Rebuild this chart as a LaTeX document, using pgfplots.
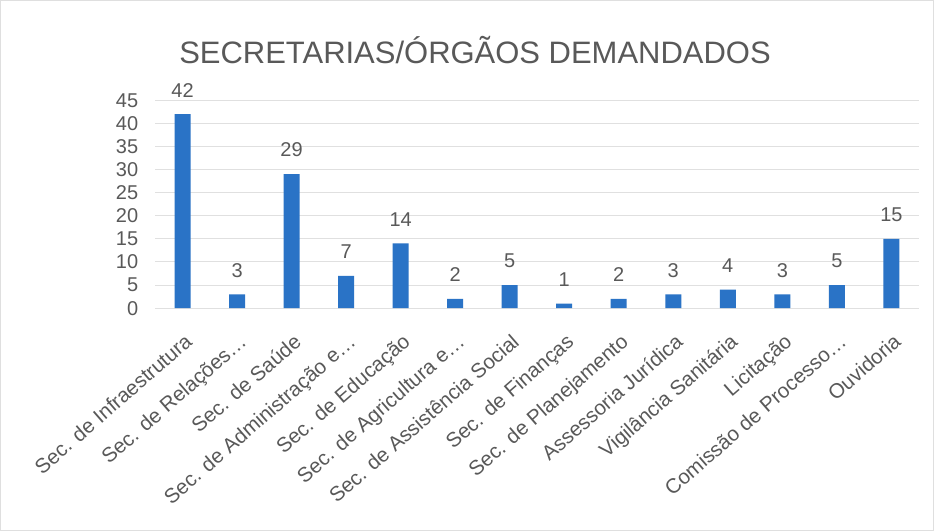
\documentclass[border=0pt]{standalone}
\usepackage{pgfplots}
\pgfplotsset{compat=1.18}
\usepackage{fontspec}
\setmainfont{Liberation Sans}
\definecolor{barblue}{HTML}{2A73C6}
\definecolor{txtgray}{HTML}{595959}
\definecolor{gridgray}{HTML}{E0E0E0}
\begin{document}
\begin{tikzpicture}
\draw[draw=gray!25, fill=white] (0,0) rectangle (467pt,265pt);
\node[text=txtgray, font=\fontsize{15.5}{18}\selectfont] at (237.5pt,240pt) {SECRETARIAS/ÓRGÃOS DEMANDADOS};
\begin{axis}[
  at={(77.5pt,111pt)}, anchor=south west,
  scale only axis, width=382pt, height=104pt,
  xmin=-0.5, xmax=13.5, ymin=0, ymax=45,
  ytick={0,5,...,45},
  xtick={0,...,13},
  xticklabels={Sec. de Infraestrutura, Sec. de Relações…, Sec. de Saúde, Sec. de Administração e…, Sec. de Educação, Sec. de Agricultura e…, Sec. de Assistência Social, Sec. de Finanças, Sec. de Planejamento, Assessoria Jurídica, Vigilância Sanitária, Licitação, Comissão de Processo…, Ouvidoria},
  xticklabel style={xshift=0.5pt, yshift=-12pt, rotate=41, anchor=north east, inner sep=0pt, font=\fontsize{10.3}{12}\selectfont, text=txtgray},
  yticklabel style={font=\fontsize{10}{12}\selectfont, text=txtgray, xshift=-5pt},
  /pgf/number format/assume math mode=true,
  axis line style={draw=none},
  major tick length=0pt,
  ymajorgrids, grid style={gridgray, line width=0.5pt},
  nodes near coords,
  nodes near coords style={font=\fontsize{10}{12}\selectfont, text=txtgray, yshift=5pt},
  enlargelimits=false,
  clip=false,
]
\addplot[ybar, bar width=8pt, fill=barblue, draw=none] coordinates {
(0,42) (1,3) (2,29) (3,7) (4,14) (5,2) (6,5) (7,1) (8,2) (9,3) (10,4) (11,3) (12,5) (13,15)};
\end{axis}
\end{tikzpicture}
\end{document}
